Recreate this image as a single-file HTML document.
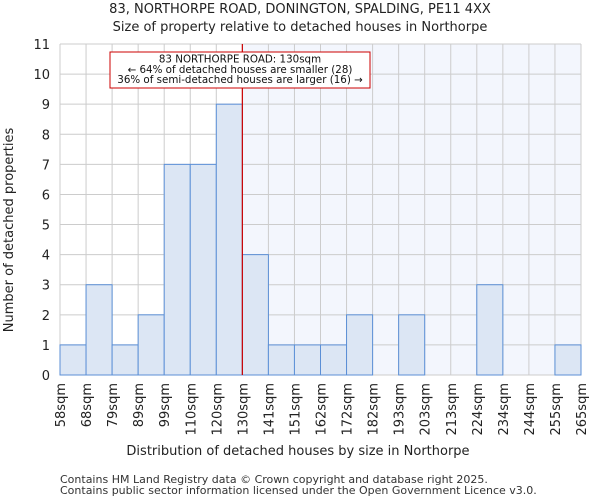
<!DOCTYPE html>
<html><head><meta charset="utf-8"><style>
body{margin:0;background:#fff;}
svg{display:block;font-family:"DejaVu Sans","Liberation Sans",sans-serif;}
</style></head><body>
<svg id="c" width="600" height="500"></svg>
<script>
const categories=["58sqm","68sqm","79sqm","89sqm","99sqm","110sqm","120sqm","130sqm","141sqm","151sqm","162sqm","172sqm","182sqm","193sqm","203sqm","213sqm","224sqm","234sqm","244sqm","255sqm","265sqm"];
const counts=[1,3,1,2,7,7,9,4,1,1,1,2,0,2,0,0,3,0,0,1];
const yTicks=[0,1,2,3,4,5,6,7,8,9,10,11];
const markerIndex=7;
const NS="http://www.w3.org/2000/svg";
const svg=document.getElementById('c');
const L=60,R=581,T=44,B=375,yMax=11;
const nb=counts.length;
const bw=(R-L)/nb;
const xs=i=>L+i*bw;
const ys=v=>B-(v/yMax)*(B-T);
function el(tag,a,parent){const e=document.createElementNS(NS,tag);for(const k in a)e.setAttribute(k,a[k]);(parent||svg).appendChild(e);return e;}
let e;
e=el('rect',{x:L,y:T,width:R-L,height:B-T,fill:'#fff'});


e=el('rect',{x:xs(markerIndex),y:T,width:R-xs(markerIndex),height:B-T,fill:'#f3f6fd'});


for(const t of yTicks){
 e=el('line',{x1:L,x2:R,y1:ys(t),y2:ys(t),stroke:'#cccccc','stroke-width':1});
 
 
 e=el('text',{x:L-10,y:ys(t)+5,'text-anchor':'end','font-size':13,fill:'#222'});
 e.textContent=t;
 
 
}
for(let i=0;i<=nb;i++){
 e=el('line',{x1:xs(i),x2:xs(i),y1:T,y2:B,stroke:'#cccccc','stroke-width':1});
 
 
}
counts.forEach((v,i)=>{
 if(v<=0)return;
 const r=el('rect',{x:xs(i),y:ys(v),width:bw,height:B-ys(v),fill:'#dce6f4',stroke:'#5b8fd6','stroke-width':1});
 
 
});
e=el('line',{x1:xs(markerIndex),x2:xs(markerIndex),y1:T,y2:B,stroke:'#cc0000','stroke-width':1.2});


categories.forEach((c,i)=>{
 const x=xs(i),y=B+8;
 const t=el('text',{x:x+5,y:y,'text-anchor':'end','font-size':13,fill:'#222',transform:`rotate(-90 ${x+5} ${y})`});
 t.textContent=c;
 
 
});
const g=el('g',{});


el('rect',{x:110,y:52,width:260,height:36,fill:'#fff',stroke:'#cc0000','stroke-width':1},g);
["83 NORTHORPE ROAD: 130sqm","← 64% of detached houses are smaller (28)","36% of semi-detached houses are larger (16) →"].forEach((s,i)=>{
 const t=el('text',{x:240,y:62.5+i*10.3,'text-anchor':'middle','font-size':10.3,fill:'#111'},g);
 t.textContent=s;
});
function txt(s,a,name){const t=el('text',a);t.textContent=s;}
txt("83, NORTHORPE ROAD, DONINGTON, SPALDING, PE11 4XX",{x:300,y:13,'text-anchor':'middle','font-size':13,fill:'#222'},'chart-title');
txt("Size of property relative to detached houses in Northorpe",{x:300,y:31,'text-anchor':'middle','font-size':13,fill:'#222'},'chart-subtitle');
txt("Distribution of detached houses by size in Northorpe",{x:298,y:455,'text-anchor':'middle','font-size':13,fill:'#222'},'x-axis-title');
txt("Number of detached properties",{x:13,y:230,'text-anchor':'middle','font-size':13,fill:'#222',transform:'rotate(-90 13 230)'},'y-axis-title');
txt("Contains HM Land Registry data © Crown copyright and database right 2025.",{x:60,y:483,'font-size':11,fill:'#333'},'footer-line-1');
txt("Contains public sector information licensed under the Open Government Licence v3.0.",{x:60,y:494,'font-size':11,fill:'#333'},'footer-line-2');
</script>
</body></html>
